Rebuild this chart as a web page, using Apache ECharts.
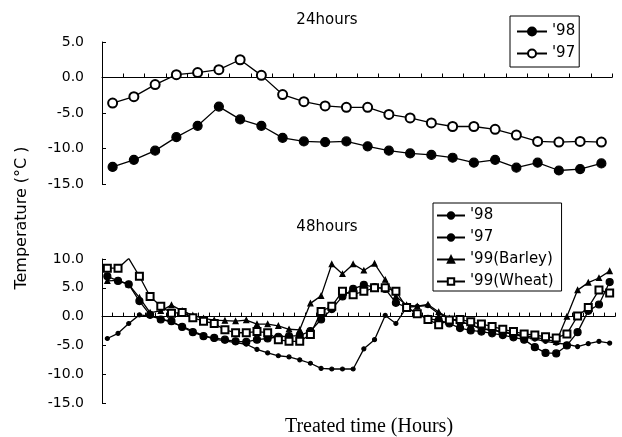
<!DOCTYPE html>
<html>
<head>
<meta charset="utf-8">
<script src="https://cdn.jsdelivr.net/npm/echarts@6/dist/echarts.min.js"></script>
<style>
html,body{margin:0;padding:0;background:#fff;}
#chart{width:622px;height:437px;}
</style>
</head>
<body>
<div id="chart"></div>
<script>
// ---- data ----
var cat24 = ['1','2','3','4','5','6','7','8','9','10','11','12','13','14','15','16','17','18','19','20','21','22','23','24'];
var cat48 = ['1','2','3','4','5','6','7','8','9','10','11','12','13','14','15','16','17','18','19','20','21','22','23','24',
             '25','26','27','28','29','30','31','32','33','34','35','36','37','38','39','40','41','42','43','44','45','46','47','48'];

var h24_98 = [-12.6, -11.6, -10.3, -8.4, -6.8, -4.1, -5.9, -6.8, -8.5, -9.0, -9.1, -9.0,
              -9.7, -10.3, -10.7, -10.9, -11.3, -12.0, -11.6, -12.7, -12.0, -13.1, -12.9, -12.1];
var h24_97 = [-3.6, -2.7, -1.0, 0.4, 0.7, 1.1, 2.5, 0.3, -2.4, -3.4, -4.0, -4.2,
              -4.2, -5.2, -5.7, -6.4, -6.9, -6.9, -7.3, -8.1, -9.0, -9.1, -9.0, -9.1];

var h48_98 = [7.0, 6.2, 5.6, 2.7, 0.3, -0.5, -0.8, -1.8, -2.7, -3.4,
              -3.7, -4.0, -4.3, -4.4, -4.0, -3.8, -3.5, -3.4, -3.3, -2.5,
              -0.5, 1.3, 3.5, 4.8, 5.5, 5.1, 4.8, 2.4, 1.6, 0.5,
              -0.4, -0.6, -1.2, -2.0, -2.4, -2.6, -2.9, -3.2, -3.6, -4.0,
              -5.3, -6.3, -6.4, -5.0, -2.7, 1.0, 2.1, 6.0];
var h48_97 = [-3.8, -2.9, -1.2, 0.3, 0.1, -0.4, -1.0, -1.7, -2.5, -3.3,
              -3.9, -4.2, -4.5, -4.8, -5.7, -6.3, -6.8, -7.0, -7.5, -8.1,
              -9.0, -9.1, -9.1, -9.1, -5.6, -4.0, 0.2, -1.2, 1.6, 1.8,
              1.9, 0.5, -0.3, -0.8, -1.5, -2.0, -2.4, -2.7, -3.1, -3.5,
              -3.9, -4.3, -4.6, -4.8, -5.2, -4.7, -4.3, -4.6];
var h48_barley = [6.2, 6.3, 5.6, 3.3, 0.7, 1.0, 2.0, 1.0, 0.2, -0.3,
                  -0.6, -0.7, -0.8, -0.6, -1.3, -1.3, -1.6, -2.2, -2.3, 2.3,
                  3.6, 9.1, 7.4, 9.1, 8.0, 9.2, 6.4, 3.5, 2.0, 1.8,
                  2.1, 0.8, -0.3, -0.9, -1.4, -2.2, -2.3, -2.6, -3.0, -3.3,
                  -3.6, -3.9, -4.4, 0.0, 4.6, 5.9, 6.7, 7.9];
var h48_wheat = [8.4, 8.4, 10.1, 7.0, 3.5, 1.8, 0.6, 0.7, -0.2, -0.8,
                 -1.2, -2.3, -2.8, -2.8, -2.6, -2.8, -4.0, -4.3, -4.3, -3.1,
                 0.9, 1.8, 4.4, 3.8, 4.4, 5.0, 5.0, 4.4, 1.6, 0.5,
                 -0.5, -1.4, -0.6, -0.5, -0.9, -1.3, -1.7, -2.2, -2.6, -3.0,
                 -3.2, -3.5, -3.7, -3.0, 0.1, 1.6, 4.6, 4.1];

var yTicksTop = [-15, -10, -5, 0, 5];
var yTicksBottom = [-15, -10, -5, 0, 5, 10];

// ---- chart ----
var FONT = 'DejaVu Sans';
var chart = echarts.init(document.getElementById('chart'), null, {renderer: 'canvas'});

function xAx(grid, cats) {
  return {
    type: 'category', gridIndex: grid, data: cats, boundaryGap: true,
    axisLine: {show: true, onZero: true, lineStyle: {color: '#000', width: 1}},
    axisTick: {show: true, inside: true, length: 4, interval: 0, lineStyle: {color: '#000', width: 1}},
    axisLabel: {show: false}, splitLine: {show: false}
  };
}
function yAx(grid, ticks) {
  return {
    type: 'value', gridIndex: grid,
    min: ticks[0], max: ticks[ticks.length - 1], interval: ticks[1] - ticks[0],
    axisLine: {show: true, lineStyle: {color: '#000', width: 1}},
    axisTick: {show: true, inside: true, length: 4, lineStyle: {color: '#000'}},
    axisLabel: {formatter: function (v) { return v.toFixed(1); }, color: '#000',
                fontSize: 14, fontFamily: FONT, margin: 18},
    splitLine: {show: false}
  };
}
function ln(name, xi, data, symbol, size) {
  return {
    name: name, type: 'line', xAxisIndex: xi, yAxisIndex: xi, data: data,
    symbol: symbol, symbolSize: size, showSymbol: true, animation: false,
    lineStyle: {color: '#000', width: 1.3},
    itemStyle: {color: '#000', borderColor: '#000', borderWidth: 1.2},
    emphasis: {disabled: true}
  };
}

var legendText = {fontSize: 15, fontFamily: FONT, color: '#000'};

var option = {
  backgroundColor: '#fff',
  animation: false,
  grid: [
    {left: 102, top: 42, width: 510, height: 142},
    {left: 102, top: 259, width: 513, height: 144}
  ],
  xAxis: [xAx(0, cat24), xAx(1, cat48)],
  yAxis: [yAx(0, yTicksTop), yAx(1, yTicksBottom)],
  legend: [
    {
      data: ["'98", "'97"], orient: 'vertical', left: 510, top: 16,
      padding: [8, 4, 6, 6], itemWidth: 30, itemHeight: 10, itemGap: 7,
      borderColor: '#000', borderWidth: 1, borderRadius: 0,
      textStyle: legendText, selectedMode: false
    },
    {
      data: ["'98 ", "'97 ", "'99(Barley)", "'99(Wheat)"],
      formatter: function (n) { return n.trim(); },
      orient: 'vertical', left: 433, top: 203,
      padding: [5, 8, 2, 3], itemWidth: 28, itemHeight: 8, itemGap: 7,
      borderColor: '#000', borderWidth: 1, borderRadius: 0,
      textStyle: legendText, selectedMode: false
    }
  ],
  series: [
    ln("'98", 0, h24_98, 'circle', 9),
    ln("'97", 0, h24_97, 'emptyCircle', 9),
    ln("'98 ", 1, h48_98, 'circle', 7),
    ln("'97 ", 1, h48_97, 'circle', 4),
    ln("'99(Barley)", 1, h48_barley, 'triangle', 5),
    ln("'99(Wheat)", 1, h48_wheat, 'emptyRect', 7)
  ],
  graphic: [
    {type: 'text', x: 327, y: 20, style: {text: '24hours', fontSize: 15, fontFamily: FONT, fill: '#000', align: 'center', verticalAlign: 'middle', textAlign: 'center', textVerticalAlign: 'middle'}},
    {type: 'text', x: 327, y: 227, style: {text: '48hours', fontSize: 15, fontFamily: FONT, fill: '#000', align: 'center', verticalAlign: 'middle', textAlign: 'center', textVerticalAlign: 'middle'}},
    {type: 'text', x: 22, y: 218, rotation: Math.PI / 2, style: {text: 'Temperature (°C )', fontSize: 16, fontFamily: FONT, fill: '#000', align: 'center', verticalAlign: 'middle', textAlign: 'center', textVerticalAlign: 'middle'}},
    {type: 'text', x: 369, y: 427, style: {text: 'Treated time (Hours)', fontSize: 20, fontFamily: 'Liberation Serif', fill: '#000', align: 'center', verticalAlign: 'middle', textAlign: 'center', textVerticalAlign: 'middle'}}
  ]
};
chart.setOption(option);
</script>
</body>
</html>
